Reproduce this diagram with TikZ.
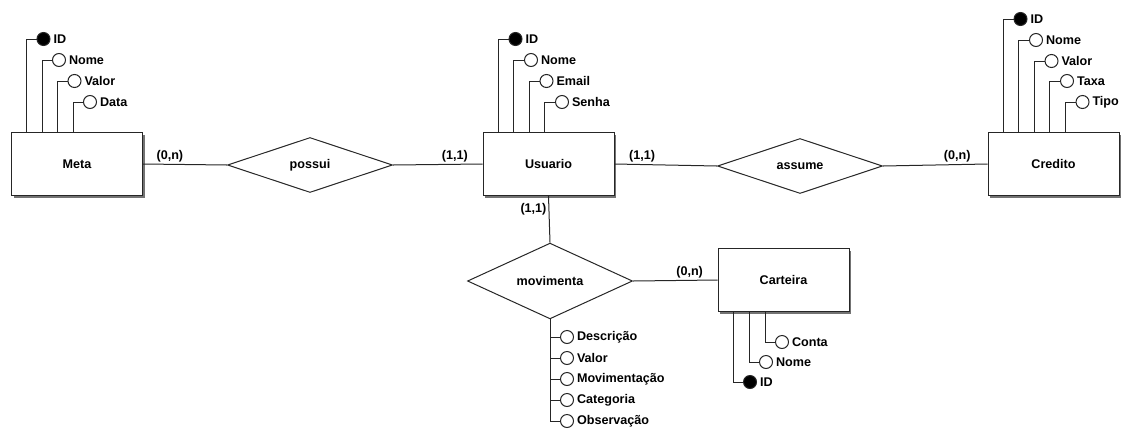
\documentclass[tikz,border=0pt]{standalone}
\usepackage{fontspec}
\setmainfont{Liberation Sans}
\usepackage{tikz}
\usetikzlibrary{shapes.geometric, positioning, shadows}

\begin{document}
\begin{tikzpicture}[
    x=1pt, y=-1pt,
    line width=1pt,
    font=\fontsize{12.6}{14}\selectfont\bfseries,
    every label/.style={inner sep=2.5pt},
    entity/.style={rectangle, draw=black!85, fill=white, minimum width=131pt, minimum height=63pt,
                   general shadow={fill=black!55, shadow xshift=2pt, shadow yshift=-2pt}},
    rel/.style={diamond, draw=black!85, fill=white, minimum width=165pt, minimum height=55pt, inner sep=0pt},
    attr/.style={circle, draw=black!85, fill=white, minimum size=13pt, inner sep=0pt},
    key/.style={attr, fill=black},
    link/.style={draw=black!85},
    card/.style={inner sep=2pt}
]
\useasboundingbox (0,0) rectangle (1126,429);

% Entities
\node[entity] (meta) at (77,164) {Meta};
\node[entity] (usuario) at (548.5,164) {Usuario};
\node[entity] (credito) at (1053.5,164) {Credito};
\node[entity] (carteira) at (783.5,280) {Carteira};

% Relationships
\node[rel] (possui) at (310,165) {possui};
\node[rel] (assume) at (800,166) {assume};
\node[rel] (movimenta) at (550,281) {movimenta};

% Meta attributes
\node[key, label={right:ID}] (metaID) at (43.5,39) {};
\node[attr, label={right:Nome}] (metaNome) at (59,60) {};
\node[attr, label={right:Valor}] (metaValor) at (74.5,81) {};
\node[attr, label={right:Data}] (metaData) at (90,102) {};

% Usuario attributes
\node[key, label={right:ID}] (usuID) at (515.5,39) {};
\node[attr, label={right:Nome}] (usuNome) at (531,60) {};
\node[attr, label={right:Email}] (usuEmail) at (546.5,81) {};
\node[attr, label={right:Senha}] (usuSenha) at (562,102) {};

% Credito attributes
\node[key, label={right:ID}] (credID) at (1020.5,19) {};
\node[attr, label={right:Nome}] (credNome) at (1036,40) {};
\node[attr, label={right:Valor}] (credValor) at (1051.5,61) {};
\node[attr, label={right:Taxa}] (credTaxa) at (1067,81) {};
\node[attr, label={right:Tipo}] (credTipo) at (1082.5,102) {};

% Carteira attributes
\node[attr, label={right:Conta}] (cartConta) at (782,342) {};
\node[attr, label={right:Nome}] (cartNome) at (766,362) {};
\node[key, label={right:ID}] (cartID) at (750,382) {};

% movimenta attributes
\node[attr, label={right:Descrição}] (movDesc) at (567,337) {};
\node[attr, label={right:Valor}] (movValor) at (567,358) {};
\node[attr, label={right:Movimentação}] (movMov) at (567,379) {};
\node[attr, label={right:Categoria}] (movCat) at (567,400) {};
\node[attr, label={right:Observação}] (movObs) at (567,421) {};

% Relationship lines
\draw[link] (meta.east) -- node[card, above, pos=0.32] {(0,n)} (possui.west);
\draw[link] (possui.east) -- node[card, above, pos=0.69] {(1,1)} (usuario.west);
\draw[link] (usuario.east) -- node[card, above, pos=0.27] {(1,1)} (assume.west);
\draw[link] (assume.east) -- node[card, above, pos=0.71] {(0,n)} (credito.west);
\draw[link] (usuario.south) -- node[card, left, pos=0.28] {(1,1)} (movimenta.north);
\draw[link] (movimenta.east) -- node[card, above, pos=0.67] {(0,n)} (carteira.west);

% Attribute lines
\draw[link] (metaID) -| ([xshift=15.5pt]meta.north west);
\draw[link] (metaNome) -| ([xshift=31pt]meta.north west);
\draw[link] (metaValor) -| ([xshift=46.5pt]meta.north west);
\draw[link] (metaData) -| ([xshift=62pt]meta.north west);

\draw[link] (usuID) -| ([xshift=15.5pt]usuario.north west);
\draw[link] (usuNome) -| ([xshift=31pt]usuario.north west);
\draw[link] (usuEmail) -| ([xshift=46.5pt]usuario.north west);
\draw[link] (usuSenha) -| ([xshift=62pt]usuario.north west);

\draw[link] (credID) -| ([xshift=15.5pt]credito.north west);
\draw[link] (credNome) -| ([xshift=31pt]credito.north west);
\draw[link] (credValor) -| ([xshift=46.5pt]credito.north west);
\draw[link] (credTaxa) -| ([xshift=62pt]credito.north west);
\draw[link] (credTipo) -| ([xshift=77.5pt]credito.north west);

\draw[link] (cartID) -| ([xshift=16pt]carteira.south west);
\draw[link] (cartNome) -| ([xshift=32pt]carteira.south west);
\draw[link] (cartConta) -| ([xshift=48pt]carteira.south west);

\draw[link] (movimenta.south) |- (movDesc);
\draw[link] (movimenta.south) |- (movValor);
\draw[link] (movimenta.south) |- (movMov);
\draw[link] (movimenta.south) |- (movCat);
\draw[link] (movimenta.south) |- (movObs);

\end{tikzpicture}
\end{document}
